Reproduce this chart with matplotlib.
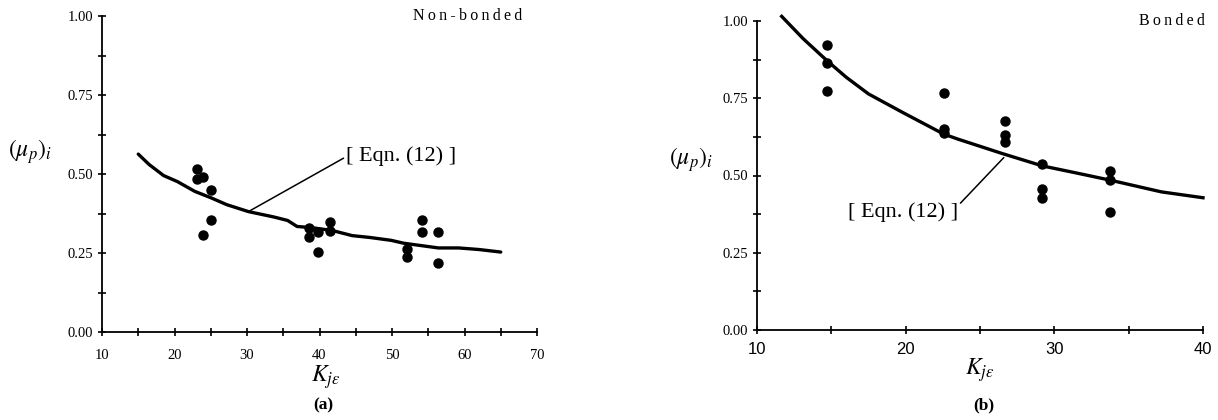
import matplotlib
matplotlib.use('Agg')
import matplotlib.pyplot as plt
from matplotlib.ticker import MultipleLocator

plt.rcParams['font.family'] = ['Liberation Serif', 'DejaVu Serif']
plt.rcParams['mathtext.fontset'] = 'stix'

# ---- (a) Non-bonded ----
a_x = [23.1, 23.1, 23.9, 25.1, 25.1, 23.9, 38.5, 38.5, 39.8, 39.8, 41.5, 41.5,
       52.1, 52.1, 54.1, 54.1, 56.3, 56.3]
a_y = [0.516, 0.485, 0.492, 0.448, 0.353, 0.308, 0.329, 0.301, 0.315, 0.252, 0.347, 0.321,
       0.262, 0.237, 0.353, 0.315, 0.315, 0.219]
a_cx = [15.0, 16.5, 18.5, 20.4, 22.8, 25.0, 27.2, 30.2, 33.7, 35.6, 36.9, 39.0, 41.8,
        44.5, 47.0, 49.9, 51.6, 54.8, 56.4, 57.0, 59.2, 62.0, 65.0]
a_cy = [0.563, 0.530, 0.495, 0.476, 0.445, 0.425, 0.403, 0.381, 0.364, 0.353, 0.334, 0.330,
        0.321, 0.305, 0.299, 0.290, 0.281, 0.271, 0.266, 0.266, 0.266, 0.261, 0.253]

# ---- (b) Bonded ----
b_x = [14.7, 14.7, 14.7, 22.56, 22.56, 22.56, 26.7, 26.7, 26.7, 29.2, 29.2, 29.2,
       33.75, 33.75, 33.75]
b_y = [0.923, 0.864, 0.772, 0.766, 0.650, 0.636, 0.677, 0.632, 0.609, 0.538, 0.457, 0.428,
       0.515, 0.484, 0.382]
b_cx = [11.66, 13.1, 14.7, 16.0, 17.5, 19.8, 22.56, 23.5, 26.5, 29.2, 31.5, 33.75, 37.2, 40.0]
b_cy = [1.015, 0.943, 0.872, 0.818, 0.764, 0.704, 0.634, 0.618, 0.571, 0.531, 0.508, 0.485,
        0.447, 0.428]

W, H = 1218, 420
fig = plt.figure(figsize=(W / 100, H / 100), dpi=100)
# axes boxes from pixel positions (left, right, bottom, top)
ax1 = fig.add_axes([102 / W, 1 - 332 / H, (537 - 102) / W, (332 - 16) / H])
ax2 = fig.add_axes([757 / W, 1 - 330 / H, (1203 - 757) / W, (330 - 21) / H])

TS = '\u2009'  # thin space for the letter-spaced corner labels


def style(ax, xmin, xmax):
    ax.set_xlim(xmin, xmax)
    ax.set_ylim(0, 1.0)
    for s in ['top', 'right']:
        ax.spines[s].set_visible(False)
    for s in ['left', 'bottom']:
        ax.spines[s].set_linewidth(1.3)
    ax.xaxis.set_major_locator(MultipleLocator(10))
    ax.xaxis.set_minor_locator(MultipleLocator(5))
    ax.yaxis.set_major_locator(MultipleLocator(0.25))
    ax.yaxis.set_minor_locator(MultipleLocator(0.125))
    ax.tick_params(which='both', direction='inout', length=6, width=1.2, labelsize=10.5)
    ax.yaxis.set_major_formatter(plt.FormatStrFormatter('%.2f'))


style(ax1, 10, 70)
ax1.tick_params(axis='x', pad=9)
ax1.plot(a_cx, a_cy, color='black', lw=2.4, solid_capstyle='round')
ax1.plot(a_x, a_y, 'o', color='black', ms=6.5)
ax1.annotate('[ Eqn. (12) ]', xy=(30.2, 0.381), xytext=(43.7, 0.555),
             fontsize=16, va='center', ha='left',
             arrowprops=dict(arrowstyle='-', color='black', lw=1.1, shrinkA=0, shrinkB=0,
                             relpos=(0, 0.5)))
ax1.text(0.966, 1.0, TS.join('Non-bonded'), transform=ax1.transAxes, fontsize=11.5,
         ha='right', va='center')
ax1.set_ylabel(r'$\left(\mu_p\right)_i$', fontsize=17, rotation=0, va='center')
ax1.yaxis.set_label_coords(-0.166, 0.57)
ax1.set_xlabel(r'$K_{j\epsilon}$', fontsize=17, va='center')
ax1.xaxis.set_label_coords(0.515, -0.142)
fig.text(323 / W, 1 - 405 / H, '(a)', fontsize=12.5, fontweight='bold',
         ha='center', va='center')

style(ax2, 10, 40)
ax2.tick_params(axis='x', pad=6)
ax2.plot(b_cx, b_cy, color='black', lw=2.4, clip_on=False)
ax2.plot(b_x, b_y, 'o', color='black', ms=6.5)
ax2.annotate('[ Eqn. (12) ]', xy=(26.6, 0.558), xytext=(23.5, 0.382),
             fontsize=16, va='center', ha='right',
             arrowprops=dict(arrowstyle='-', color='black', lw=1.1, shrinkA=0, shrinkB=0,
                             relpos=(1, 0.8)))
ax2.text(1.004, 1.0, TS.join('Bonded'), transform=ax2.transAxes, fontsize=11.5,
         ha='right', va='center')
ax2.set_ylabel(r'$\left(\mu_p\right)_i$', fontsize=17, rotation=0, va='center')
ax2.yaxis.set_label_coords(-0.148, 0.55)
ax2.set_xlabel(r'$K_{j\epsilon}$', fontsize=17, va='center')
ax2.xaxis.set_label_coords(0.50, -0.129)
for lab in ax2.get_xticklabels():
    lab.set_family('Liberation Sans')
    lab.set_fontsize(12)
fig.text(984 / W, 1 - 405 / H, '(b)', fontsize=12.5, fontweight='bold',
         ha='center', va='center')

fig.savefig('out.png', dpi=100)
